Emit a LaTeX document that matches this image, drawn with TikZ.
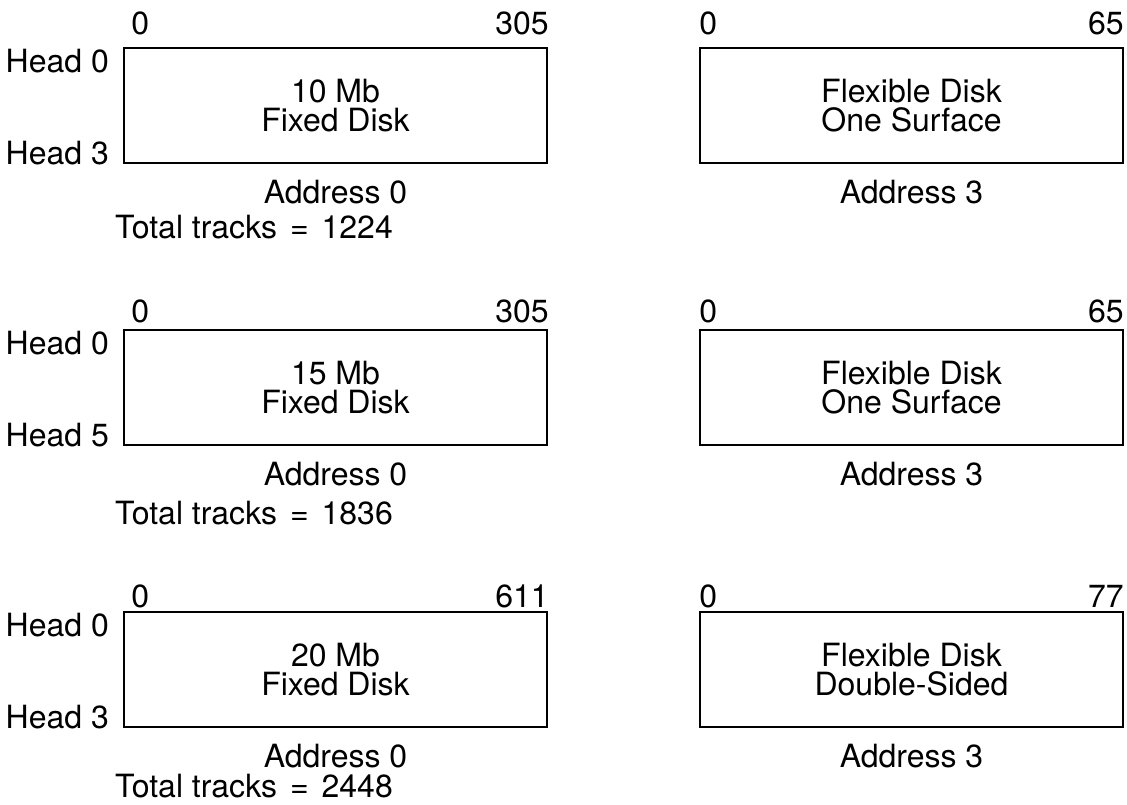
\documentclass[tikz,border=0pt]{standalone}
\usepackage{fontspec}
\setmainfont{TeX Gyre Heros}
\begin{document}
\begin{tikzpicture}[x=1pt,y=-1pt,font=\fontsize{32}{29}\selectfont,
    disk/.style={draw,line width=1.8pt,minimum width=423pt,minimum height=115pt,align=center,inner sep=0pt},
    lbl/.style={inner sep=0pt}]
    \useasboundingbox (0,0) rectangle (1127,805);
    \foreach \r/\y/\mb/\hd/\cyl/\tot/\sub/\fcyl/\gap/\low in {1/48/10/3/305/1224/One Surface/65/13/191,2/330/15/5/305/1836/One Surface/65/7/194,3/612/20/3/611/2448/Double-Sided/77/4/185}{
        \node[disk](fix\r)at(335.5,\y+57.5){\mb\ Mb\\Fixed Disk};
        \node[disk](flex\r)at(911.5,\y+57.5){Flexible Disk\\\sub};
        % cylinder numbers over the boxes
        \node[lbl,anchor=base west](fz\r)at([xshift=8pt,yshift=\gap pt]fix\r.north west){0};
        \node[lbl,anchor=base east](fc\r)at([xshift=1pt,yshift=\gap pt]fix\r.north east){\cyl};
        \node[lbl,anchor=base west](xz\r)at([yshift=\gap pt]flex\r.north west){0};
        \node[lbl,anchor=base east](xc\r)at([yshift=\gap pt]flex\r.north east){\fcyl};
        % heads
        \node[lbl,anchor=base east](ht\r)at([xshift=-14pt,yshift=-25pt]fix\r.north west){Head 0};
        \node[lbl,anchor=base east](hb\r)at([xshift=-14pt,yshift=-1pt]fix\r.south west){Head \hd};
        % addresses
        \node[lbl,anchor=base](fa\r)at([yshift=-40pt]fix\r.south){Address 0};
        \node[lbl,anchor=base](xa\r)at([yshift=-40pt]flex\r.south){Address 3};
        \node[lbl,anchor=base east](tt\r)at(393,\y+\low){Total tracks\hspace{4pt} = \hspace{4pt}\tot};
    }
\end{tikzpicture}
\end{document}
